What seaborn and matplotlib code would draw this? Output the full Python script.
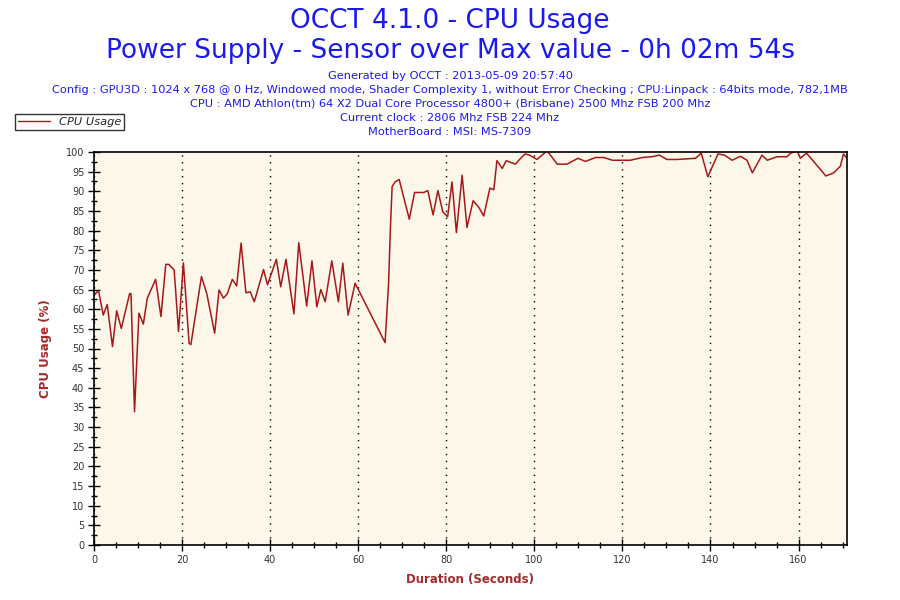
import matplotlib
matplotlib.use("Agg")
import matplotlib.pyplot as plt
from matplotlib.ticker import MultipleLocator
from matplotlib.lines import Line2D
import seaborn as sns
import pandas as pd

# ---- data ----
seconds = [0, 0.8, 1.1, 2.1, 3.0, 4.2, 5.15, 6.2, 8.1, 8.4, 9.2, 10.2, 11.2, 12.1, 14.0,
           15.2, 16.3, 17.0, 18.2, 19.2, 20.3, 21.6, 22.0, 24.4, 25.6, 27.4, 28.4, 29.4,
           30.3, 31.4, 32.4, 33.4, 34.5, 35.5, 36.4, 38.5, 39.4, 41.4, 42.4, 43.6, 45.4,
           46.5, 48.3, 49.5, 50.6, 51.5, 52.5, 54.0, 55.5, 56.5, 57.7, 59.3, 66.1, 66.9,
           67.3, 67.7, 68.4, 69.3, 71.6, 72.8, 74.9, 75.8, 77.0, 78.1, 79.2, 80.3, 81.3,
           82.3, 83.6, 84.7, 86.1, 87.4, 88.5, 89.9, 90.8, 91.5, 92.7, 93.6, 95.7, 96.8,
           97.9, 98.9, 100.6, 102.9, 105.2, 107.4, 109.9, 111.6, 113.9, 115.8, 117.7,
           121.8, 124.5, 126.7, 128.4, 130.1, 132.4, 136.6, 137.9, 139.4, 141.7, 143.2,
           144.9, 146.8, 148.3, 149.5, 151.7, 152.9, 155.1, 157.4, 158.2, 159.7, 160.4,
           161.8, 163.5, 166.2, 168.0, 169.5, 170.2, 171.0]
cpu_usage = [63.6, 64.5, 64.3, 58.5, 61.2, 50.5, 59.6, 55.1, 64.0, 63.9, 33.9, 59.0, 56.2,
             62.8, 67.6, 58.1, 71.4, 71.4, 70.0, 54.3, 71.8, 51.3, 51.0, 68.3, 64.0, 53.9,
             64.9, 62.8, 64.0, 67.6, 65.9, 76.8, 64.2, 64.4, 61.9, 70.1, 66.2, 72.7, 65.7,
             72.7, 58.8, 76.9, 60.8, 72.3, 60.6, 65.0, 61.9, 72.3, 61.9, 71.7, 58.5, 66.6,
             51.5, 66.6, 80.2, 91.2, 92.4, 93.0, 82.9, 89.7, 89.7, 90.2, 84.0, 90.2, 84.8,
             83.5, 92.4, 79.5, 94.1, 80.8, 87.6, 85.9, 83.7, 90.8, 90.4, 97.8, 95.8, 97.8,
             96.9, 98.3, 99.5, 99.2, 98.1, 100.3, 96.9, 96.9, 98.4, 97.6, 98.6, 98.6, 97.9,
             97.9, 98.6, 98.8, 99.2, 98.1, 98.1, 98.4, 99.7, 93.7, 99.5, 99.2, 97.9, 98.9,
             97.9, 94.7, 99.2, 97.9, 98.8, 98.8, 99.7, 100.3, 98.4, 99.7, 97.5, 93.9, 94.7,
             96.4, 99.5, 98.4]

title_lines = ["OCCT 4.1.0 - CPU Usage",
               "Power Supply - Sensor over Max value - 0h 02m 54s"]
info_lines = ["Generated by OCCT : 2013-05-09 20:57:40",
              "Config : GPU3D : 1024 x 768 @ 0 Hz, Windowed mode, Shader Complexity 1, without Error Checking ; CPU:Linpack : 64bits mode, 782,1MB",
              "CPU : AMD Athlon(tm) 64 X2 Dual Core Processor 4800+ (Brisbane) 2500 Mhz FSB 200 Mhz",
              "Current clock : 2806 Mhz FSB 224 Mhz",
              "MotherBoard : MSI: MS-7309"]
series_name = "CPU Usage"
x_label = "Duration (Seconds)"
y_label = "CPU Usage (%)"

df = pd.DataFrame({"t": seconds, "v": cpu_usage})

sns.set_theme(style="white")
plt.rcParams['font.family'] = ['DejaVu Sans']

LINE = "#A81818"
LABEL = "#A52A2A"
BLUE = "#1A1AF0"

fig = plt.figure(figsize=(9, 6), dpi=100)
ax = fig.add_axes([94/900, 1-545/600, (847-94)/900, (545-152)/600])
ax.set_facecolor("#FDF7E9")

sns.lineplot(data=df, x="t", y="v", ax=ax, color=LINE, linewidth=1.1, legend=False)

ax.set_xlim(0, 171)
ax.set_ylim(0, 100)
ax.xaxis.set_major_locator(MultipleLocator(20))
ax.xaxis.set_minor_locator(MultipleLocator(5))
ax.yaxis.set_major_locator(MultipleLocator(5))
ax.yaxis.set_minor_locator(MultipleLocator(2.5))
ax.tick_params(which="major", direction="inout", length=8, width=1, color="black",
               labelsize=7, labelcolor="#333333", left=True, bottom=True, pad=3)
ax.tick_params(which="minor", direction="inout", length=5, width=1, color="black",
               left=True, bottom=True)
for s in ax.spines.values():
    s.set_color("black")
    s.set_linewidth(1.2)
ax.grid(axis="x", which="major", color="black", linestyle=(0, (1, 4)), linewidth=1)
ax.grid(axis="y", visible=False)

ax.set_xlabel(x_label, color=LABEL, fontsize=8.5, fontweight="bold", labelpad=6)
ax.set_ylabel(y_label, color=LABEL, fontsize=8.5, fontweight="bold", labelpad=10)

fig.text(0.5, 1-21/600, title_lines[0], ha="center", va="center", color=BLUE, fontsize=19)
fig.text(0.5, 1-51/600, title_lines[1], ha="center", va="center", color=BLUE, fontsize=19)
for i, line in enumerate(info_lines):
    fig.text(0.5, 1-(76+14*i)/600, line, ha="center", va="center", color=BLUE, fontsize=8.2)

handle = Line2D([], [], color=LINE, linewidth=1)
leg = fig.legend([handle], [series_name], loc="upper left",
                 bbox_to_anchor=(15/900, 1-114/600), frameon=True, fancybox=False,
                 prop={"style": "italic", "size": 8.2}, handlelength=2.8,
                 borderpad=0.25, handletextpad=0.8, borderaxespad=0)
leg.get_frame().set_edgecolor("black")
leg.get_frame().set_linewidth(1)

fig.savefig("out.png", dpi=100, facecolor="white")
